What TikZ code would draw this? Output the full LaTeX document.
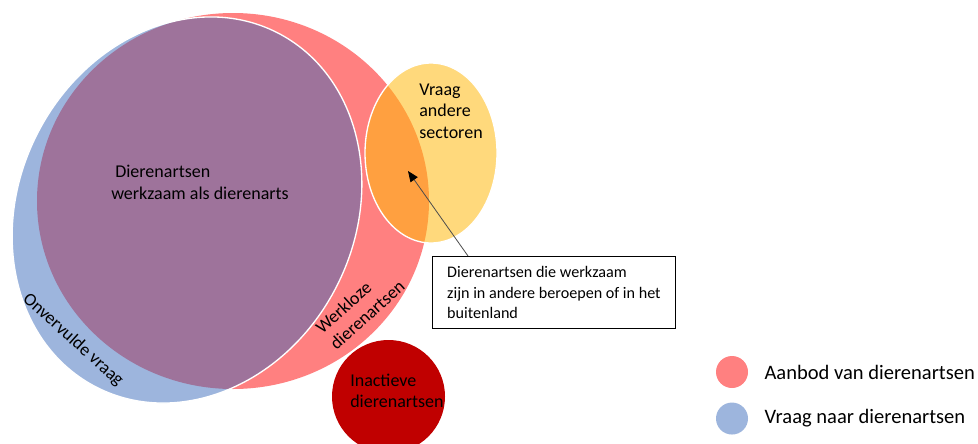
\documentclass[tikz,border=0pt]{standalone}
\usepackage{fontspec}
\setmainfont{Carlito}
\usetikzlibrary{calc,positioning,arrows.meta}

\definecolor{aanbod}{RGB}{255,128,128}
\definecolor{vraag}{RGB}{157,181,221}
\definecolor{werkzaam}{RGB}{158,115,155}
\definecolor{sector}{RGB}{255,217,124}
\definecolor{elders}{RGB}{255,160,64}
\definecolor{inactief}{RGB}{192,0,0}

\newcommand\aanbodpath{(233,201) circle [x radius=196,y radius=188]}
\newcommand\vraagpath{(187,210) circle [x radius=168,y radius=199,rotate=-27]}
\newcommand\sectorpath{(431,153) circle [x radius=66,y radius=90]}

\begin{document}
\begin{tikzpicture}[x=0.75pt,y=-0.75pt,
    label text/.style={font=\fontsize{13.5}{16}\selectfont,align=left,inner sep=0pt},
    legend text/.style={font=\fontsize{15.4}{18}\selectfont,inner sep=0pt},
    legdot/.style={circle,inner sep=0pt,minimum size=24pt},
    notebox/.style={draw,line width=0.9pt,fill=white,align=left,minimum width=182pt,minimum height=54pt,font=\fontsize{12.1}{15.4}\selectfont},
    pointer/.style={-{Triangle[length=8pt,width=6.5pt,color=black]},draw=black!70,line width=0.6pt}]
  \useasboundingbox (0,0) rectangle (978,443);

  % aanbod, vraag en de overlap
  \fill[aanbod] \aanbodpath;
  \fill[vraag] \vraagpath;
  \begin{scope}
    \clip \vraagpath;
    \fill[werkzaam] \aanbodpath;
  \end{scope}
  \draw[white,line width=1pt] \vraagpath;

  % andere sectoren
  \fill[sector] \sectorpath;
  \begin{scope}
    \clip \sectorpath;
    \fill[elders] \aanbodpath;
  \end{scope}
  \draw[white,line width=1pt] \sectorpath;

  \fill[inactief] (388.5,396.5) circle (56.5);

  \begin{scope}[every node/.style={label text}]
    \node[anchor=west] (werkzaamtxt) at (111,182.5) {\hspace*{3pt}Dierenartsen\\werkzaam als dierenarts};
    \node[anchor=west] (sectortxt) at (419,111) {Vraag\\andere\\sectoren};
    \node[rotate=-42] (onvervuld) at (73,340) {Onvervulde vraag};
    \node[rotate=42] (werkloos) at (360,307) {Werkloze\\dierenartsen};
    \node[anchor=west] (inactieftxt) at (350,391) {Inactieve\\dierenartsen};
  \end{scope}

  \node[notebox,anchor=north west] (note) at (432,256) {Dierenartsen die werkzaam\\zijn in andere beroepen of in het\\buitenland};
  \coordinate (pijlpunt) at (408,171);
  \draw[pointer] ([xshift=27pt]note.north west) -- (pijlpunt);

  % legenda
  \node[legdot,fill=aanbod] (aanboddot) at (732,372) {};
  \node[legdot,fill=vraag,below=10.5pt of aanboddot] (vraagdot) {};
  \node[legend text,right=12pt of aanboddot] (aanbodtxt) {Aanbod van dierenartsen};
  \node[legend text,right=12pt of vraagdot] (vraagtxt) {Vraag naar dierenartsen};

\end{tikzpicture}
\end{document}
